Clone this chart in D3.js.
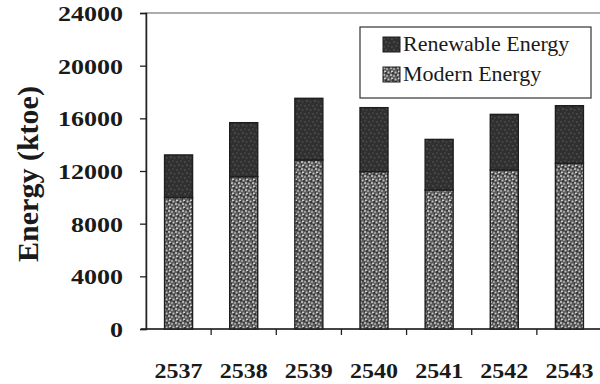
<!DOCTYPE html>
<html>
<head>
<meta charset="utf-8">
<script src="https://cdn.jsdelivr.net/npm/d3@7"></script>
<style>
  body { margin: 0; background: #fff; }
  svg { display: block; }
  text { font-family: "Liberation Serif", "Times New Roman", serif; fill: #1a1a1a; }
</style>
</head>
<body>
<div id="chart"></div>
<script>
// values (ktoe)
const years = ["2537", "2538", "2539", "2540", "2541", "2542", "2543"];
const modern = [9990, 11570, 12840, 11950, 10560, 12080, 12580];
const renewable = [3230, 4100, 4680, 4860, 3840, 4220, 4380];
const yTicks = [0, 4000, 8000, 12000, 16000, 20000, 24000];
const seriesNames = ["Renewable Energy", "Modern Energy"];

const width = 600,
      height = 384,
      margin = ({ top: 13, right: -2, bottom: 55, left: 146 });

let svg = d3.select("#chart")
    .append("svg")
    .attr("width", width)
    .attr("height", height);

// speckled fills like the scanned print
let defs = svg.append("defs");
let pm = defs.append("pattern").attr("id", "modernFill")
    .attr("width", 7).attr("height", 7).attr("patternUnits", "userSpaceOnUse");
pm.append("rect").attr("width", 7).attr("height", 7).attr("fill", "#5e5e5e");
[[1, 1, "#d0d0d0"], [4, 2, "#b0b0b0"], [2, 4.5, "#dcdcdc"], [5.5, 5.5, "#c2c2c2"], [0, 3.5, "#2e2e2e"], [3, 6, "#2a2a2a"], [6, 0.5, "#333"]]
    .forEach(d => pm.append("circle").attr("cx", d[0]).attr("cy", d[1]).attr("r", 1).attr("fill", d[2]));

let pr = defs.append("pattern").attr("id", "renewFill")
    .attr("width", 8).attr("height", 8).attr("patternUnits", "userSpaceOnUse");
pr.append("rect").attr("width", 8).attr("height", 8).attr("fill", "#303030");
[[1, 2, "#4c4c4c"], [5, 1, "#444"], [3, 5, "#505050"], [6.5, 6, "#474747"]]
    .forEach(d => pr.append("circle").attr("cx", d[0]).attr("cy", d[1]).attr("r", 1).attr("fill", d[2]));

let x = d3.scaleBand()
    .domain(years)
    .range([margin.left, width - margin.right])
    .paddingInner(0.57)
    .paddingOuter(0.285);

let y = d3.scaleLinear()
    .domain([0, 24000])
    .range([329, margin.top]);

// plot frame
svg.append("rect")
    .attr("x", margin.left)
    .attr("y", y(24000))
    .attr("width", width - margin.right - margin.left)
    .attr("height", y(0) - y(24000))
    .attr("fill", "none")
    .attr("stroke", "#777")
    .attr("stroke-width", 1.2);

// y axis
let yAxis = svg.append("g")
    .attr("transform", `translate(${margin.left},0)`)
    .call(d3.axisLeft(y).tickValues(yTicks).tickSize(6).tickPadding(17).tickFormat(d3.format("d")));
yAxis.select(".domain").attr("stroke", "#222").attr("stroke-width", 1.5);
yAxis.selectAll(".tick line").attr("stroke", "#222").attr("stroke-width", 1.3);
yAxis.selectAll("text")
    .attr("font-size", 21)
    .attr("font-weight", "bold")
    .attr("dy", "0.35em")
    .attr("textLength", d => String(d).length * 13)
    .attr("lengthAdjust", "spacingAndGlyphs")
    .style("fill", "#1a1a1a");

// x axis line with ticks between categories
let step = x.step();
svg.append("line")
    .attr("x1", margin.left - 5).attr("x2", width)
    .attr("y1", y(0)).attr("y2", y(0))
    .attr("stroke", "#222").attr("stroke-width", 1.5);
svg.selectAll(".xtick")
    .data(years.slice(0, -1))
    .join("line")
    .attr("class", "xtick")
    .attr("x1", d => x(d) + x.bandwidth() / 2 + step / 2)
    .attr("x2", d => x(d) + x.bandwidth() / 2 + step / 2)
    .attr("y1", y(0)).attr("y2", y(0) + 6)
    .attr("stroke", "#222").attr("stroke-width", 1.3);

svg.selectAll(".xlabel")
    .data(years)
    .join("text")
    .attr("class", "xlabel")
    .attr("x", d => x(d) + x.bandwidth() / 2)
    .attr("y", 378)
    .attr("text-anchor", "middle")
    .attr("font-size", 22)
    .attr("font-weight", "bold")
    .attr("textLength", 48)
    .attr("lengthAdjust", "spacingAndGlyphs")
    .text(d => d);

// stacked bars
let stackData = years.map((yr, i) => ({ year: yr, modern: modern[i], renewable: renewable[i] }));
let stacked = d3.stack().keys(["modern", "renewable"])(stackData);
let fills = { modern: "url(#modernFill)", renewable: "url(#renewFill)" };

svg.selectAll(".layer")
    .data(stacked)
    .join("g")
    .attr("class", "layer")
    .attr("fill", d => fills[d.key])
    .selectAll("rect")
    .data(d => d)
    .join("rect")
    .attr("x", d => x(d.data.year))
    .attr("width", x.bandwidth())
    .attr("y", d => y(d[1]))
    .attr("height", d => y(d[0]) - y(d[1]))
    .attr("stroke", "#1e1e1e")
    .attr("stroke-width", 1.4);

// axis title
svg.append("text")
    .attr("transform", "translate(38,174) rotate(-90)")
    .attr("text-anchor", "middle")
    .attr("font-size", 30)
    .attr("font-weight", "bold")
    .text("Energy (ktoe)");

// legend
let legend = svg.append("g");
legend.append("rect")
    .attr("x", 360).attr("y", 27)
    .attr("width", 231).attr("height", 71)
    .attr("fill", "#fff")
    .attr("stroke", "#333")
    .attr("stroke-width", 1.2);

let legendFills = ["url(#renewFill)", "url(#modernFill)"];
let item = legend.selectAll(".item")
    .data(seriesNames)
    .join("g")
    .attr("class", "item")
    .attr("transform", (d, i) => `translate(383,${37 + i * 30})`);
item.append("rect")
    .attr("width", 17).attr("height", 15)
    .attr("fill", (d, i) => legendFills[i])
    .attr("stroke", "#1e1e1e")
    .attr("stroke-width", 1);
item.append("text")
    .attr("x", 20)
    .attr("y", 14)
    .attr("font-size", 22)
    .text(d => d);
</script>
</body>
</html>
